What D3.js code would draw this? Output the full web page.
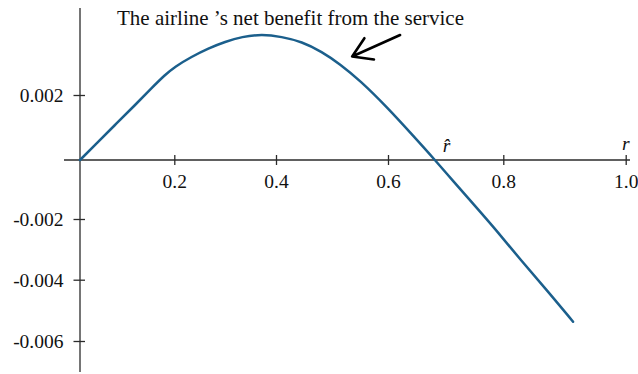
<!DOCTYPE html>
<html>
<head>
<meta charset="utf-8">
<script src="https://cdn.jsdelivr.net/npm/d3@7"></script>
<style>
  html, body { margin: 0; padding: 0; background: #fff; }
  svg { display: block; font-family: "Liberation Serif", "DejaVu Serif", serif; }
</style>
</head>
<body>
<svg id="chart" width="638" height="374"></svg>
<script>
// Share of passengers r and the airline's net benefit at that share
const rValues = [0, 0.032, 0.074, 0.117, 0.152, 0.180, 0.201, 0.234, 0.267, 0.300, 0.333,
  0.372, 0.410, 0.446, 0.482, 0.514, 0.550, 0.598, 0.644, 0.6815, 0.713, 0.748,
  0.789, 0.827, 0.871, 0.914];
const benefit = [0, 0.000462, 0.001077, 0.001692, 0.002215, 0.002615, 0.002871, 0.003178,
  0.003437, 0.003640, 0.003794, 0.003868, 0.003794, 0.003640, 0.003332, 0.002954,
  0.002446, 0.001631, 0.000738, 0, -0.000712, -0.001492, -0.002395, -0.003318,
  -0.004336, -0.005370];

const xTicks = [0.2, 0.4, 0.6, 0.8, 1.0];
const xTickLabels = ["0.2", "0.4", "0.6", "0.8", "1.0"];
const yTicks = [0.002, -0.002, -0.004, -0.006];
const yTickLabels = ["0.002", "-0.002", "-0.004", "-0.006"];

const rHat = 0.6815;
const titleText = "The airline \u2019s net benefit from the service";
// arrow from the caption down to the curve, in data units
const arrowTail = [0.621, 0.003846];
const arrowTip = [0.536, 0.003185];

const svg = d3.select("#chart");

// the axes are drawn with unevenly spaced ticks, so both scales are piecewise
const x = d3.scaleLinear()
  .domain([0, 0.2, 0.4, 0.6, 0.8, 1.0])
  .range([80, 174.3, 276, 388, 503.3, 625.7]);
const y = d3.scaleLinear()
  .domain([-0.006, -0.004, -0.002, 0, 0.002])
  .range([341, 279.7, 219, 160, 95]);

const axisColor = "#2b2b2b";
const fontSize = 19.5;

// axis lines
svg.append("line")
  .attr("x1", 64).attr("x2", 630)
  .attr("y1", y(0)).attr("y2", y(0))
  .attr("stroke", axisColor).attr("stroke-width", 1.3);
svg.append("line")
  .attr("x1", x(0)).attr("x2", x(0))
  .attr("y1", 8).attr("y2", 372)
  .attr("stroke", axisColor).attr("stroke-width", 1.3);

// x axis ticks and labels
const gx = svg.append("g")
  .attr("transform", `translate(0,${y(0)})`)
  .call(d3.axisBottom(x).tickValues(xTicks)
    .tickFormat((d, i) => xTickLabels[i]).tickSize(5).tickPadding(0));
gx.select(".domain").remove();
gx.selectAll(".tick line").attr("y1", -5).attr("y2", 5)
  .attr("stroke", axisColor).attr("stroke-width", 1.3);
gx.selectAll(".tick text")
  .attr("y", 28).attr("dy", 0)
  .attr("fill", "#111")
  .style("font-family", "Liberation Serif, serif")
  .style("font-size", fontSize + "px");

// y axis ticks and labels
const gy = svg.append("g")
  .attr("transform", `translate(${x(0)},0)`)
  .call(d3.axisLeft(y).tickValues(yTicks)
    .tickFormat((d, i) => yTickLabels[i]).tickSize(6.5).tickPadding(0));
gy.select(".domain").remove();
gy.selectAll(".tick line").attr("x1", -6.5).attr("x2", 5)
  .attr("stroke", axisColor).attr("stroke-width", 1.3);
gy.selectAll(".tick text")
  .attr("x", -16.5).attr("dy", "0.33em")
  .attr("fill", "#111")
  .style("font-family", "Liberation Serif, serif")
  .style("font-size", fontSize + "px");

// axis variable and the break-even share
svg.append("text")
  .attr("x", x(1.0)).attr("y", y(0) - 10)
  .attr("text-anchor", "middle")
  .attr("font-style", "italic")
  .attr("font-size", fontSize)
  .attr("fill", "#111")
  .text("r");
svg.append("text")
  .attr("x", x(rHat) + 11.5).attr("y", y(0) - 8.5)
  .attr("text-anchor", "middle")
  .attr("font-style", "italic")
  .attr("font-size", fontSize)
  .attr("fill", "#111")
  .text("r\u0302");

// net benefit curve
const pts = rValues.map((r, i) => [r, benefit[i]]);
const line = d3.line()
  .x(d => x(d[0]))
  .y(d => y(d[1]))
  .curve(d3.curveBasis);
svg.append("path")
  .datum(pts)
  .attr("d", line)
  .attr("fill", "none")
  .attr("stroke", "#1b5f8c")
  .attr("stroke-width", 2.5)
  .attr("stroke-linecap", "round");

// caption
svg.append("text")
  .attr("x", 290.5).attr("y", 25)
  .attr("text-anchor", "middle")
  .attr("font-size", 21)
  .attr("fill", "#111")
  .text(titleText);

// arrow with an open head
const tx = x(arrowTip[0]), ty = y(arrowTip[1]);
const sx = x(arrowTail[0]), sy = y(arrowTail[1]);
const ang = Math.atan2(sy - ty, sx - tx);
const headLen = 22, spread = 32 * Math.PI / 180;
const b1 = [tx + headLen * Math.cos(ang - spread), ty + headLen * Math.sin(ang - spread)];
const b2 = [tx + headLen * Math.cos(ang + spread), ty + headLen * Math.sin(ang + spread)];
svg.append("path")
  .attr("d", `M${sx},${sy}L${tx},${ty}M${b1[0]},${b1[1]}L${tx},${ty}L${b2[0]},${b2[1]}`)
  .attr("fill", "none")
  .attr("stroke", "#000")
  .attr("stroke-width", 2.6)
  .attr("stroke-linecap", "round")
  .attr("stroke-linejoin", "round");
</script>
</body>
</html>
